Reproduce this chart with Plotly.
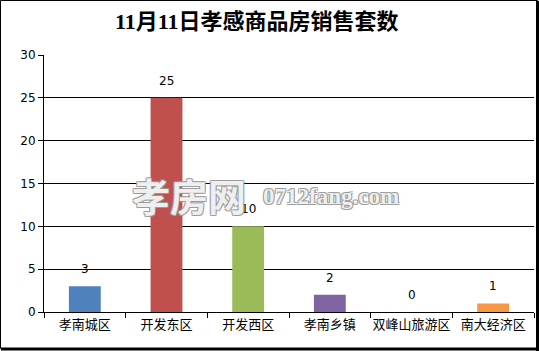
import plotly.graph_objects as go

categories = ["孝南城区", "开发东区", "开发西区", "孝南乡镇", "双峰山旅游区", "南大经济区"]
values = [3, 25, 10, 2, 0, 1]
colors = ["#4F81BD", "#C0504D", "#9BBB59", "#8064A2", "#4BACC6", "#F79646"]
yticks = [0, 5, 10, 15, 20, 25, 30]
title = "11月11日孝感商品房销售套数"

W, H = 539, 351
L, R, T, B = 44, 5, 55, 39
pw, ph = W - L - R, H - T - B

def px(x):
    return (x - L) / pw

def py(y):
    return (H - B - y) / ph

fig = go.Figure(go.Bar(
    x=categories, y=values, marker=dict(color=colors, line=dict(width=0)),
    width=0.39, showlegend=False,
))

for c, v in zip(categories, values):
    fig.add_annotation(x=c, y=v, text=str(v), showarrow=False, yshift=17,
                       font=dict(family="DejaVu Sans, Liberation Sans", size=12, color="#000"))

fig.add_annotation(xref="paper", yref="paper", x=px(257), y=py(21), text=title, showarrow=False,
                   xanchor="center", yanchor="middle",
                   font=dict(family="Liberation Serif, Noto Sans CJK SC", size=22, color="#000", weight="bold"))

outline = "1px 1px 0 #999, -1px -1px 0 #999, 1px -1px 0 #999, -1px 1px 0 #999"
fig.add_annotation(xref="paper", yref="paper", x=px(189), y=py(194), text="孝房网", showarrow=False,
                   xanchor="center", yanchor="middle",
                   font=dict(family="Noto Sans CJK SC", size=38, color="rgba(255,255,255,0.85)", weight="bold", shadow=outline))
fig.add_annotation(xref="paper", yref="paper", x=px(331), y=py(196), text="0712fang.com", showarrow=False,
                   xanchor="center", yanchor="middle",
                   font=dict(family="Liberation Serif", size=23, color="rgba(255,255,255,0.85)", weight="bold", shadow=outline))

# outer border
fig.add_shape(type="rect", xref="paper", yref="paper",
              x0=px(0.5), x1=px(W - 1.5), y0=py(0.5), y1=py(H - 2.5),
              line=dict(color="#000", width=1), layer="below")
fig.add_shape(type="line", xref="paper", yref="paper", x0=px(W - 1.5), x1=px(W - 1.5), y0=py(1), y1=py(H),
              line=dict(color="#000", width=3))
fig.add_shape(type="line", xref="paper", yref="paper", x0=px(1), x1=px(W), y0=py(H - 2), y1=py(H - 2),
              line=dict(color="#000", width=3))

fig.update_layout(
    width=W, height=H, margin=dict(l=L, r=R, t=T, b=B, autoexpand=False),
    paper_bgcolor="white", plot_bgcolor="white", bargap=0.61,
    font=dict(family="DejaVu Sans, Noto Sans CJK SC", color="#000"),
)
fig.update_xaxes(type="category", showgrid=False, showline=True, linecolor="#000", linewidth=1,
                 ticks="outside", tickson="boundaries", ticklen=5, tickcolor="#000",
                 tickangle=0, automargin=False,
                 tickfont=dict(family="Noto Sans CJK SC", size=13, color="#000"))
fig.update_yaxes(range=[0, 30], tickvals=yticks, showgrid=True, gridcolor="#000", gridwidth=1,
                 showline=True, linecolor="#000", linewidth=1, ticks="outside", ticklen=5, tickcolor="#000",
                 zeroline=False, automargin=False, tickfont=dict(family="DejaVu Sans", size=12, color="#000"))

fig.write_html("out.html")
